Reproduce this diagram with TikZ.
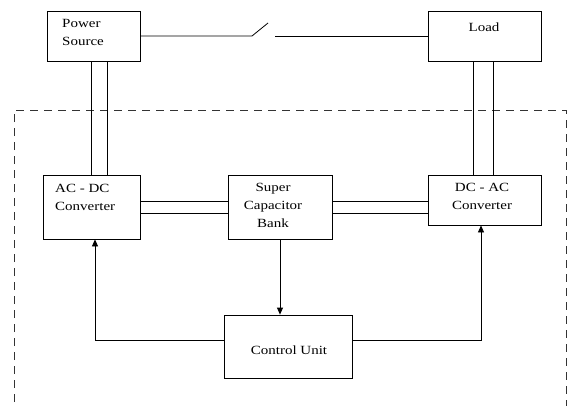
\documentclass[tikz,border=0pt]{standalone}
\usepackage{fontspec}
\setmainfont[FakeStretch=1.2]{Liberation Serif}
\usetikzlibrary{arrows.meta}
\begin{document}
\begin{tikzpicture}[x=1pt,y=-1pt,
  box/.style={draw,line width=0.8pt,minimum width=0pt,minimum height=0pt,inner sep=0pt},
  txt/.style={font=\fontsize{12.5}{18}\selectfont,inner sep=0pt,align=left},
  ln/.style={line width=0.8pt},
  arr/.style={line width=0.8pt,-{Triangle[length=7pt,width=6pt]}}]
\useasboundingbox (0,0) rectangle (567,405);
\begin{scope}
\clip (0,0) rectangle (567,405);
\draw[line width=0.8pt,dash pattern=on 8pt off 6pt,black!80] (14,430) -- (14,110) -- (566,110) -- (566,430);
\end{scope}
% boxes
\node[box,minimum width=93pt,minimum height=50pt] (ps) at (93.5,36) {};
\node[box,minimum width=113pt,minimum height=50pt] (load) at (484.5,36) {};
\node[box,minimum width=97pt,minimum height=64pt] (acdc) at (91.5,207) {};
\node[box,minimum width=104pt,minimum height=64pt] (scb) at (280,207) {};
\node[box,minimum width=113pt,minimum height=50pt] (dcac) at (484.5,200) {};
\node[box,minimum width=128pt,minimum height=63pt] (cu) at (288,346.5) {};
% texts
\node[txt,anchor=west] (pst) at (62,32) {Power\\Source};
\node[txt] (loadt) at (484,27) {Load};
\node[txt,anchor=west] (acdct) at (55,197) {AC - DC\\Converter};
\node[txt,align=center] (scbt) at (273,205) {Super\\Capacitor\\Bank};
\node[txt,align=center] (dcact) at (482,196) {DC - AC\\Converter};
\node[txt] (cut) at (289,350) {Control Unit};
% switch
\coordinate (sw1) at (252,36);
\coordinate (sw2) at (268,23);
\coordinate (sw3) at (275,36);
\draw[ln] (ps.east |- sw1) -- (sw1) -- (sw2);
\draw[ln] (sw3) -- (load.west |- sw3);
% double lines
\draw[ln] (91,0 |- ps.south) -- (91,0 |- acdc.north);
\draw[ln] (107,0 |- ps.south) -- (107,0 |- acdc.north);
\draw[ln] (473,0 |- load.south) -- (473,0 |- dcac.north);
\draw[ln] (493,0 |- load.south) -- (493,0 |- dcac.north);
\draw[ln] (acdc.east |- 0,201) -- (scb.west |- 0,201);
\draw[ln] (acdc.east |- 0,213) -- (scb.west |- 0,213);
\draw[ln] (scb.east |- 0,201) -- (dcac.west |- 0,201);
\draw[ln] (scb.east |- 0,213) -- (dcac.west |- 0,213);
% arrows
\draw[arr] (scb.south) -- (cu.north -| scb.south);
\draw[arr] (cu.west |- 0,340) -| (95,0 |- acdc.south);
\draw[arr] (cu.east |- 0,340) -| (481,0 |- dcac.south);
\end{tikzpicture}
\end{document}
